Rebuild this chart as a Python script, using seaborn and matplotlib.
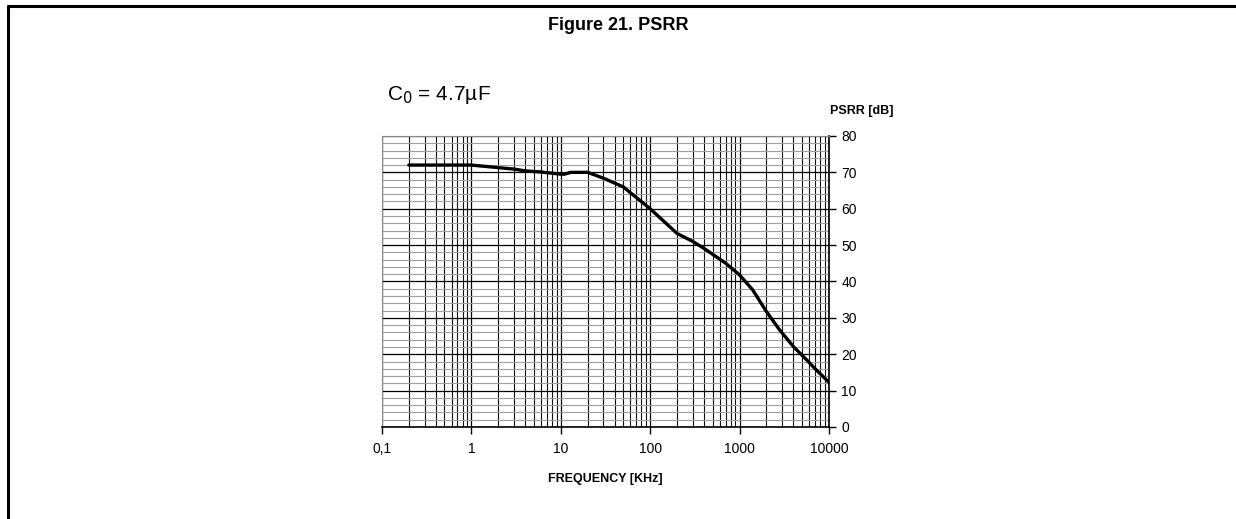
import matplotlib
matplotlib.use('Agg')
import matplotlib.pyplot as plt
from matplotlib.lines import Line2D
from matplotlib.ticker import LogLocator, MultipleLocator, FixedLocator, FixedFormatter, NullFormatter
import numpy as np
import pandas as pd
import seaborn as sns

# PSRR curve (frequency in kHz, PSRR in dB)
freq_khz = [0.2, 0.5, 1, 2, 3, 4, 6, 10, 11, 13, 20, 30, 50, 100, 200, 300, 400, 700,
            1000, 1400, 2000, 2800, 4000, 5600, 7200, 10000]
psrr_db = [72, 72, 72, 71.3, 70.9, 70.4, 70.1, 69.5, 69.5, 70, 70, 68.4, 66, 60, 53.2,
           51, 49.1, 45, 41.8, 37.7, 31.7, 26.7, 22.1, 18.5, 15.7, 12.3]

x_ticks = [0.1, 1, 10, 100, 1000, 10000]
x_tick_labels = ['0,1', '1', '10', '100', '1000', '10000']
y_ticks = [0, 10, 20, 30, 40, 50, 60, 70, 80]

df = pd.DataFrame({'freq': freq_khz, 'psrr': psrr_db})

sns.set_style('white')
plt.rcParams['font.family'] = ['Liberation Sans', 'DejaVu Sans']
plt.rcParams['text.color'] = 'black'
plt.rcParams['axes.labelcolor'] = 'black'
plt.rcParams['xtick.color'] = 'black'
plt.rcParams['ytick.color'] = 'black'

fig = plt.figure(figsize=(12.36, 5.19), dpi=100)
ax = fig.add_axes([0.309, 0.1773, 0.3617, 0.5607])

sns.lineplot(data=df, x='freq', y='psrr', ax=ax, color='black', linewidth=2.4)

ax.set_xscale('log')
ax.set_xlim(0.1, 10000)
ax.set_ylim(0, 80)

# grid: log decades + minor lines, 10 dB majors + 2 dB minors
ax.xaxis.set_major_locator(FixedLocator(x_ticks))
ax.xaxis.set_major_formatter(FixedFormatter(x_tick_labels))
ax.xaxis.set_minor_locator(LogLocator(base=10, subs=np.arange(2, 10)))
ax.xaxis.set_minor_formatter(NullFormatter())
ax.yaxis.set_major_locator(FixedLocator(y_ticks))
ax.yaxis.set_minor_locator(MultipleLocator(2))

ax.grid(which='major', axis='both', color='black', linewidth=0.9)
ax.grid(which='minor', axis='x', color='#111111', linewidth=0.8)
ax.grid(which='minor', axis='y', color='#a0a0a0', linewidth=0.8)
ax.set_axisbelow(True)

ax.yaxis.tick_right()
ax.yaxis.set_label_position('right')
ax.tick_params(axis='y', which='major', direction='out', length=5, width=1,
               color='black', labelcolor='black', labelsize=10, pad=4, right=True, left=False)
ax.tick_params(axis='y', which='minor', length=0)
ax.tick_params(axis='x', which='major', direction='out', length=5, width=1,
               color='black', labelcolor='black', labelsize=10, pad=6, bottom=True)
ax.tick_params(axis='x', which='minor', length=0)

for side in ['left', 'top']:
    ax.spines[side].set_color('#888888')
    ax.spines[side].set_linewidth(0.8)
for side in ['right', 'bottom']:
    ax.spines[side].set_color('black')
    ax.spines[side].set_linewidth(1.2)

ax.set_xlabel('FREQUENCY [KHz]', fontsize=9, fontweight='bold', labelpad=12, color='black')
ax.set_ylabel('')

fig.text(0.7225, 0.775, 'PSRR [dB]', fontsize=9, fontweight='bold', ha='right', va='bottom',
         color='black')
fig.text(0.313, 0.808, r'C$_0$ = 4.7µF', fontsize=15, ha='left', va='baseline', color='black')
fig.text(0.5, 0.951, 'Figure 21. PSRR', fontsize=13, fontweight='bold', ha='center', va='center',
         color='black')

# page frame: top and left rules only
fig.add_artist(Line2D([0.0065, 1.0], [0.9885, 0.9885], transform=fig.transFigure,
                      color='black', linewidth=2.2))
fig.add_artist(Line2D([0.0065, 0.0065], [0.0, 0.9885], transform=fig.transFigure,
                      color='black', linewidth=2.2))

fig.savefig('out.png', dpi=100)
